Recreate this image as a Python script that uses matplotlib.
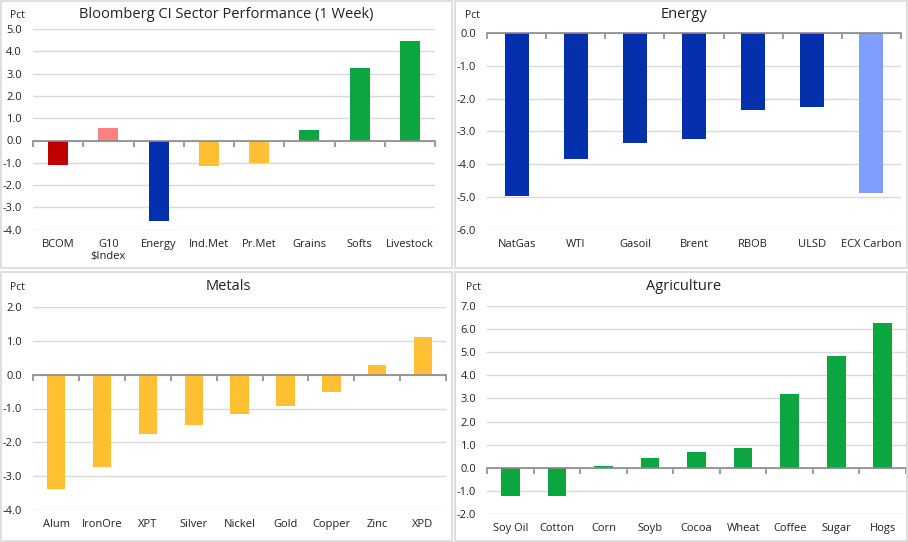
import matplotlib
matplotlib.use("Agg")
import matplotlib.pyplot as plt
import matplotlib.transforms as mtransforms
from matplotlib.patches import Rectangle
import numpy as np

plt.rcParams['font.family'] = ['Open Sans', 'DejaVu Sans']

# ---------------- data ----------------
sector_cats = ["BCOM", "G10\n$Index", "Energy", "Ind.Met", "Pr.Met", "Grains", "Softs", "Livestock"]
sector_vals = [-1.08, 0.54, -3.62, -1.15, -1.0, 0.45, 3.23, 4.48]
sector_cols = ["#C00000", "#FF8080", "#0530AD", "#FFC133", "#FFC133", "#0BA640", "#0BA640", "#0BA640"]

energy_cats = ["NatGas", "WTI", "Gasoil", "Brent", "RBOB", "ULSD", "ECX Carbon"]
energy_vals = [-4.97, -3.85, -3.35, -3.23, -2.35, -2.25, -4.87]
energy_cols = ["#0530AD"] * 6 + ["#7F9FFF"]

metals_cats = ["Alum", "IronOre", "XPT", "Silver", "Nickel", "Gold", "Copper", "Zinc", "XPD"]
metals_vals = [-3.38, -2.73, -1.76, -1.48, -1.16, -0.92, -0.50, 0.29, 1.12]
metals_cols = ["#FFC133"] * 9

agri_cats = ["Soy Oil", "Cotton", "Corn", "Soyb", "Cocoa", "Wheat", "Coffee", "Sugar", "Hogs"]
agri_vals = [-1.23, -1.23, 0.09, 0.42, 0.68, 0.85, 3.19, 4.83, 6.26]
agri_cols = ["#0BA640"] * 9

W, H = 908, 542
fig = plt.figure(figsize=(W / 100, H / 100), dpi=100)

def px_axes(left, top, right, bottom):
    return fig.add_axes([left / W, 1 - bottom / H, (right - left) / W, (bottom - top) / H])

# panel borders
for (l, t, r, b) in [(1, 1, 451.5, 268), (455, 1, 907, 268), (1, 272, 451.5, 541), (455, 272, 907, 541)]:
    fig.patches.append(Rectangle((l / W, 1 - b / H), (r - l) / W, (b - t) / H,
                                 transform=fig.transFigure, fill=False,
                                 edgecolor="#D9D9D9", linewidth=1.2))

def panel(box, cats, vals, cols, ylim, title, title_xy, pct_xy):
    ax = px_axes(*box)
    n = len(cats)
    x = np.arange(n)
    ax.bar(x, vals, width=0.4, color=cols, zorder=3)
    ax.set_xlim(-0.5, n - 0.5)
    ax.set_ylim(*ylim)
    ticks = np.arange(ylim[0], ylim[1] + 0.01, 1.0)
    ax.set_yticks(ticks)
    ax.set_yticklabels([f"{t:.1f}" for t in ticks], fontsize=8, color="#222222")
    ax.tick_params(axis='y', length=0, pad=8)
    ax.grid(axis='y', color="#D9D9D9", linewidth=1, zorder=0)
    for s in ['left', 'right', 'top']:
        ax.spines[s].set_visible(False)
    ax.spines['bottom'].set_position(('data', 0))
    ax.spines['bottom'].set_color("#898989")
    ax.spines['bottom'].set_linewidth(1.2)
    ax.spines['bottom'].set_zorder(4)
    ax.set_xticks(np.arange(n + 1) - 0.5)
    ax.set_xticklabels([])
    ax.tick_params(axis='x', direction='out', length=4, color="#898989", width=1.2)
    trans = mtransforms.blended_transform_factory(ax.transData, ax.transAxes)
    off = mtransforms.offset_copy(trans, fig=fig, x=0, y=-9, units='dots')
    for xi, c in zip(x, cats):
        ax.text(xi, 0, c, transform=off, ha='center', va='top', fontsize=8,
                color="#222222", linespacing=1.1)
    fig.text(title_xy[0] / W, 1 - title_xy[1] / H, title, ha='center', va='center',
             fontsize=10.5, color="#222222")
    fig.text(pct_xy[0] / W, 1 - pct_xy[1] / H, "Pct", ha='left', va='center',
             fontsize=7.5, color="#222222")
    return ax

panel((33, 29, 435, 229.7), sector_cats, sector_vals, sector_cols, (-4, 5),
      "Bloomberg CI Sector Performance (1 Week)", (226, 14), (10, 16))
panel((487.3, 33, 900.7, 229.7), energy_cats, energy_vals, energy_cols, (-6, 0),
      "Energy", (684, 14), (465, 16))
panel((33.3, 307.3, 446, 509.7), metals_cats, metals_vals, metals_cols, (-4, 2),
      "Metals", (228, 287), (10, 288))
panel((487.3, 306, 906, 514), agri_cats, agri_vals, agri_cols, (-2, 7),
      "Agriculture", (684, 287), (466, 288))

fig.savefig("out.png", dpi=100)
